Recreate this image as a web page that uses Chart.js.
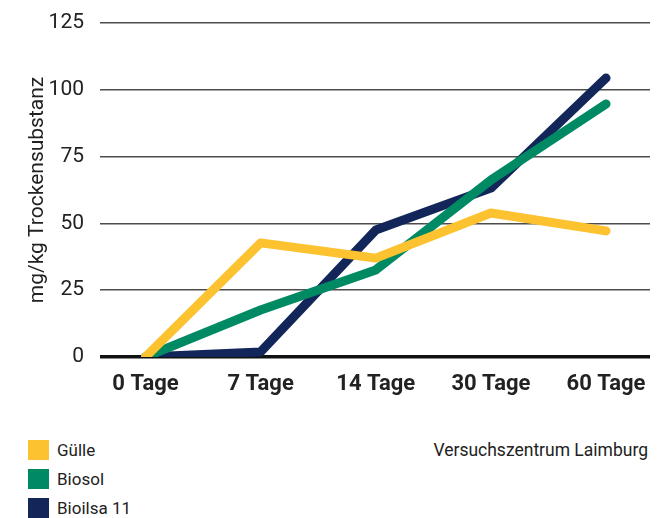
<!DOCTYPE html>
<html>
<head>
<meta charset="utf-8">
<script src="https://cdn.jsdelivr.net/npm/chart.js@4/dist/chart.umd.min.js"></script>
<style>
  html, body { margin: 0; padding: 0; background: #fff; }
  #wrap { position: relative; width: 663px; height: 518px; font-family: Roboto, "Liberation Sans", sans-serif; color: #222; }
  #c { position: absolute; left: 0; top: 0; }
  .leg { position: absolute; left: 28px; font-size: 17px; line-height: 20px; }
  .leg span.sw { position: absolute; left: 0; top: 0; width: 21px; height: 20px; }
  .leg span.tx { position: absolute; left: 29px; top: 0; white-space: nowrap; }
  #src { position: absolute; right: 15px; top: 440px; font-size: 17.5px; line-height: 20px; white-space: nowrap; }
</style>
</head>
<body>
<div id="wrap">
  <canvas id="c" width="663" height="420"></canvas>
  <div id="legend"></div>
  <div id="src">Versuchszentrum Laimburg</div>
</div>
<script>
const categories = ["0 Tage", "7 Tage", "14 Tage", "30 Tage", "60 Tage"];
const seriesNames = ["Gülle", "Biosol", "Bioilsa 11"];
const seriesColors = ["#FCC230", "#008A64", "#13265A"];
const guelle = [0, 42.7, 37, 53.9, 47.2];
const biosol = [0, 17.6, 32.6, 66.2, 94.7];
const bioilsa = [0, 1.9, 47.5, 63.2, 104.4];
const yTicks = [0, 25, 50, 75, 100, 125];
const yTitle = "mg/kg Trockensubstanz";

const seriesValues = [guelle, biosol, bioilsa];

const datasets = seriesNames.map((name, i) => ({
  label: name,
  data: seriesValues[i].map((v, j) => ({ x: j, y: v })),
  borderColor: seriesColors[i],
  backgroundColor: seriesColors[i],
  borderWidth: 9,
  borderCapStyle: 'round',
  borderJoinStyle: 'round',
  pointRadius: 0,
  pointHoverRadius: 0,
  tension: 0,
  fill: false
}));

new Chart(document.getElementById('c'), {
  type: 'line',
  data: { datasets },
  options: {
    responsive: false,
    animation: false,
    events: [],
    layout: { padding: { top: 23, right: 13, bottom: 0, left: 0 } },
    plugins: { legend: { display: false }, tooltip: { enabled: false } },
    scales: {
      x: {
        type: 'linear',
        min: -0.395,
        max: 4.382,
        afterBuildTicks: (s) => { s.ticks = categories.map((c, i) => ({ value: i })); },
        afterFit: (s) => { s.height = 63; s.paddingLeft = 0; s.paddingRight = 0; },
        grid: { display: false, drawTicks: false },
        border: { display: false },
        ticks: {
          padding: 14,
          autoSkip: false,
          maxRotation: 0,
          color: '#222',
          font: { family: 'Roboto', size: 22, weight: 'bold' },
          callback: (v) => categories[v]
        }
      },
      y: {
        min: 0,
        max: 125,
        afterBuildTicks: (s) => { s.ticks = yTicks.map(v => ({ value: v })); },
        afterFit: (s) => { s.width = 100; s.paddingTop = 0; s.paddingBottom = 0; },
        grid: {
          drawTicks: false,
          color: (ctx) => ctx.tick && ctx.tick.value === 0 ? '#111' : '#4d4d4d',
          lineWidth: (ctx) => ctx.tick && ctx.tick.value === 0 ? 3.5 : 1.5
        },
        border: { display: false },
        ticks: {
          padding: 16,
          color: '#222',
          font: { family: 'Roboto', size: 21 }
        },
        title: {
          display: true,
          text: yTitle,
          color: '#222',
          font: { family: 'Roboto', size: 21 },
          padding: { top: 25, bottom: 0 }
        }
      }
    }
  }
});

const legend = document.getElementById('legend');
const legendTops = [440, 469, 498];
seriesNames.forEach((n, i) => {
  const d = document.createElement('div');
  d.className = 'leg';
  d.style.top = legendTops[i] + 'px';
  d.innerHTML = '<span class="sw" style="background:' + seriesColors[i] + '"></span><span class="tx">' + n + '</span>';
  legend.appendChild(d);
});
</script>
</body>
</html>
